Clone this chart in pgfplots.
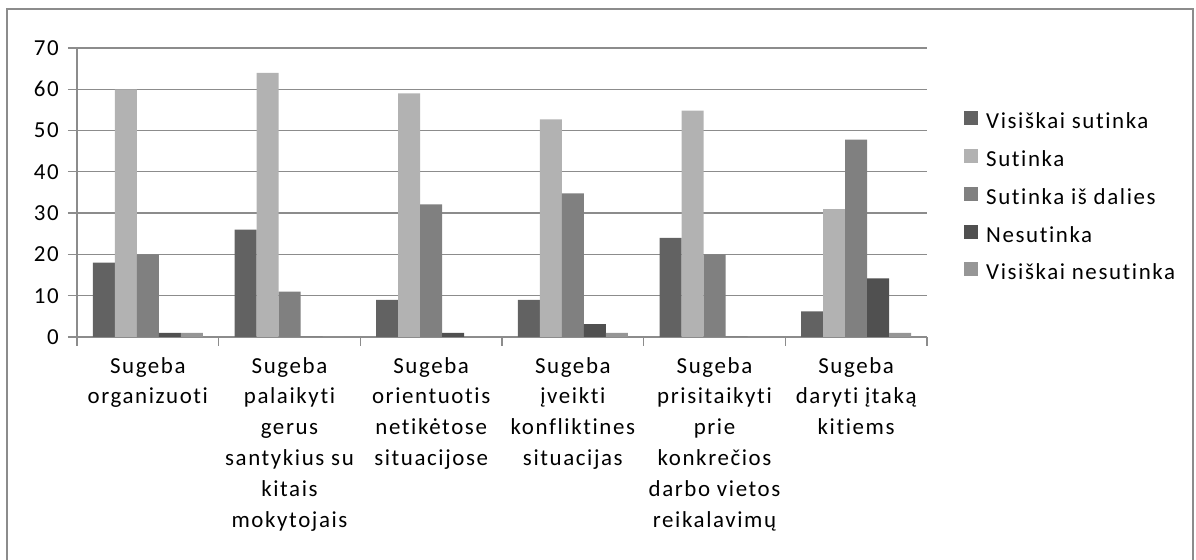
\documentclass[border=0pt]{standalone}
\usepackage{fontspec}
\setmainfont{Carlito}[LetterSpace=7, Ligatures={NoCommon}]
\usepackage{pgfplots}
\pgfplotsset{compat=1.18}
\definecolor{cA}{HTML}{626262}
\definecolor{cB}{HTML}{B2B2B2}
\definecolor{cC}{HTML}{808080}
\definecolor{cD}{HTML}{505050}
\definecolor{cE}{HTML}{969696}
\definecolor{gridc}{HTML}{8C8C8C}
\begin{document}
\begin{tikzpicture}[x=1bp,y=1bp]
\useasboundingbox (0,0) rectangle (1196,560);
\draw[gridc, line width=1.5bp] (7,-2) -- (7,551) -- (1193,551) -- (1193,-2);
\begin{axis}[
  at={(77bp,223bp)}, anchor=south west,
  scale only axis, width=850bp, height=289bp,
  xmin=-0.5, xmax=5.5, ymin=0, ymax=70,
  ytick={0,10,...,70},
  ymajorgrids, grid style={gridc, line width=1.3bp},
  axis x line*=bottom, axis y line*=left,
  axis line style={gridc, line width=1.3bp, -},
  tick style={gridc, line width=1.3bp},
  tick align=outside, major tick length=9bp,
  /pgf/number format/assume math mode=true,
  yticklabel style={font=\fontsize{23}{27}\selectfont, inner sep=0pt, xshift=-9bp},
  xtick={-0.5,0.5,...,5.5}, xticklabels={},
  extra x ticks={0,1,2,3,4,5},
  extra x tick style={major tick length=0pt},
  extra x tick labels={
    Sugeba\\organizuoti,
    Sugeba\\palaikyti\\gerus\\santykius su\\kitais\\mokytojais,
    Sugeba\\orientuotis\\netikėtose\\situacijose,
    Sugeba\\įveikti\\konfliktines\\situacijas,
    Sugeba\\prisitaikyti\\prie\\konkrečios\\darbo vietos\\reikalavimų,
    Sugeba\\daryti įtaką\\kitiems},
  xticklabel style={font=\fontsize{23}{31}\selectfont, align=center, anchor=north, inner sep=0pt, yshift=-20bp},
  ybar=0pt, bar width=22bp,
  legend cell align=left,
  legend style={at={(1.0,1.0)}, anchor=north west, xshift=37bp, yshift=-63bp, draw=none, fill=none,
    font=\fontsize{23}{27}\selectfont, inner sep=0pt, row sep=15.3bp,
    nodes={inner sep=0pt, text height=16bp, text depth=5bp},
    /tikz/every odd column/.append style={column sep=8bp}},
  legend image code/.code={\fill[#1] (0bp,-2bp) rectangle (14bp,12bp);},
]
\addplot[fill=cA, draw=none] coordinates {(0,18) (1,26) (2,9) (3,9) (4,24) (5,6.2)};
\addplot[fill=cB, draw=none] coordinates {(0,60) (1,64) (2,59) (3,52.7) (4,54.8) (5,31)};
\addplot[fill=cC, draw=none] coordinates {(0,20) (1,11) (2,32.1) (3,34.8) (4,20) (5,47.8)};
\addplot[fill=cD, draw=none] coordinates {(0,1) (1,0) (2,1) (3,3.1) (4,0) (5,14.2)};
\addplot[fill=cE, draw=none] coordinates {(0,1) (1,0) (2,0) (3,1) (4,0) (5,1)};
\legend{Visiškai sutinka, Sutinka, Sutinka iš dalies, Nesutinka, Visiškai nesutinka}
\end{axis}
\end{tikzpicture}
\end{document}
